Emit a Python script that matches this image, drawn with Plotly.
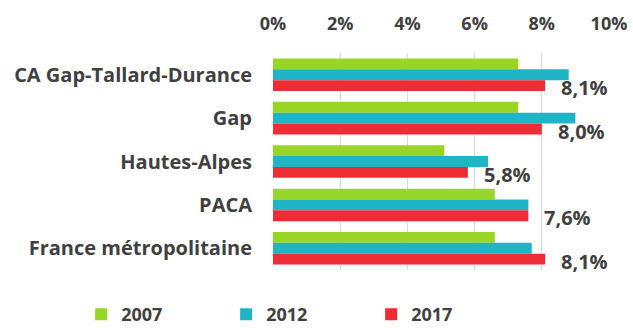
import plotly.graph_objects as go

# Unemployment-style rates by territory, three census years
territories = ["CA Gap-Tallard-Durance", "Gap", "Hautes-Alpes", "PACA", "France métropolitaine"]
rate_2007 = [7.3, 7.3, 5.1, 6.6, 6.6]
rate_2012 = [8.8, 9.0, 6.4, 7.6, 7.7]
rate_2017 = [8.1, 8.0, 5.8, 7.6, 8.1]
x_ticks = [0, 2, 4, 6, 8, 10]
x_tick_labels = ["0%", "2%", "4%", "6%", "8%", "10%"]

FONT = "Open Sans"
TEXT = "#404040"

fig = go.Figure()
series = [("2007", rate_2007, "#99d524"), ("2012", rate_2012, "#1fb4c6"), ("2017", rate_2017, "#ee2c33")]
for name, vals, col in series:
    fig.add_trace(go.Bar(
        y=territories, x=vals, name=name, orientation="h",
        marker=dict(color=col, line=dict(width=0)),
    ))

# Value labels for the latest year, just past the end of the red bars
for terr, v in zip(territories, rate_2017):
    fig.add_annotation(
        x=v, y=terr, text=f"{v:.1f}%".replace(".", ","),
        showarrow=False, xanchor="left", yanchor="middle",
        xshift=14, yshift=-13,
        font=dict(family=FONT, size=20, color=TEXT, weight="bold"),
    )

fig.update_layout(
    width=633, height=328,
    margin=dict(l=273, r=24, t=53, b=58, autoexpand=False),
    paper_bgcolor="white", plot_bgcolor="white",
    barmode="group", bargap=0.25, bargroupgap=0,
    font=dict(family=FONT, color=TEXT),
    showlegend=True,
    legend=dict(
        orientation="h",
        x=-0.571, y=-0.205, xanchor="left", yanchor="middle",
        entrywidth=100, entrywidthmode="pixels",
        font=dict(family=FONT, size=18, color=TEXT, weight="bold"),
        itemsizing="constant", traceorder="normal",
    ),
)
fig.update_xaxes(
    side="top", range=[0, 10], tickvals=x_ticks, ticktext=x_tick_labels,
    showgrid=True, gridcolor="#d9d9d9", gridwidth=1,
    zeroline=False, showline=False, ticks="",
    ticklabelstandoff=18, automargin=False,
    tickfont=dict(family=FONT, size=18, color=TEXT, weight="bold"),
)
# Fixed category range so the value labels don't stretch the axis
fig.update_yaxes(
    range=[len(territories) - 0.5, -0.5], autorange=False,
    showgrid=False, zeroline=False, showline=False,
    ticks="", ticklabelstandoff=20, automargin=False,
    tickfont=dict(family=FONT, size=20, color=TEXT, weight="bold"),
)

fig.write_html("out.html")
